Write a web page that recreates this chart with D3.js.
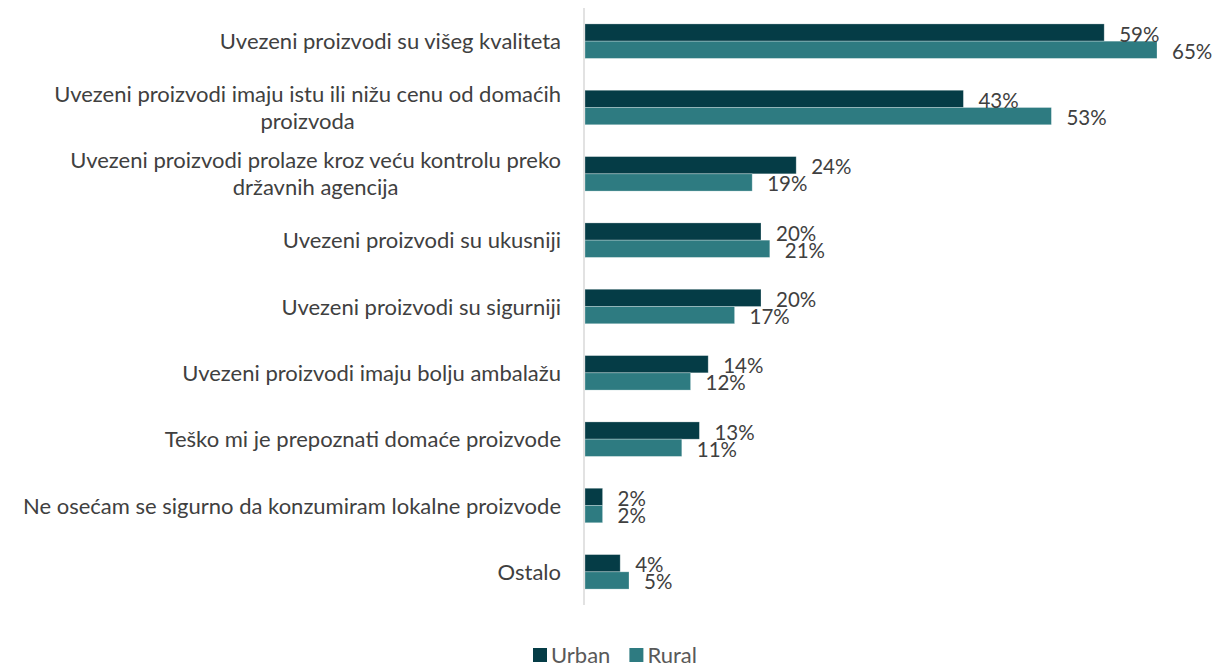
<!DOCTYPE html>
<html>
<head>
<meta charset="utf-8">
<script src="https://cdn.jsdelivr.net/npm/d3@7"></script>
<style>
  html, body { margin: 0; padding: 0; background: #fff; }
  svg { display: block; }
  text { font-family: "Lato", "Open Sans", sans-serif; }
</style>
</head>
<body>
<svg id="chart" width="1220" height="666"></svg>
<script>
// Reasons for buying imported products, by settlement type (%)
const categories = [
  ["Uvezeni proizvodi su višeg kvaliteta"],
  ["Uvezeni proizvodi imaju istu ili nižu cenu od domaćih", "proizvoda"],
  ["Uvezeni proizvodi prolaze kroz veću kontrolu preko", "državnih agencija"],
  ["Uvezeni proizvodi su ukusniji"],
  ["Uvezeni proizvodi su sigurniji"],
  ["Uvezeni proizvodi imaju bolju ambalažu"],
  ["Teško mi je prepoznati domaće proizvode"],
  ["Ne osećam se sigurno da konzumiram lokalne proizvode"],
  ["Ostalo"]
];
const urban = [59, 43, 24, 20, 20, 14, 13, 2, 4];
const rural = [65, 53, 19, 21, 17, 12, 11, 2, 5];
const seriesNames = ["Urban", "Rural"];
const seriesColors = ["#053c46", "#2e7b81"];

const svg = d3.select("#chart");
const plotLeft = 585, plotTop = 8, plotBottom = 605;

const keys = categories.map((c, i) => i);
const y = d3.scaleBand().domain(keys).range([plotTop, plotBottom]).paddingInner(0.48).paddingOuter(0.24);
const ySub = d3.scaleBand().domain([0, 1]).range([0, y.bandwidth()]);
const x = d3.scaleLinear().domain([0, 65]).range([plotLeft, 1157]);

const data = [urban, rural];

// bars
data.forEach((vals, s) => {
  svg.append("g").selectAll("rect").data(vals).join("rect")
    .attr("x", x(0))
    .attr("y", (d, i) => y(i) + ySub(s))
    .attr("width", d => x(d) - x(0))
    .attr("height", ySub.bandwidth())
    .attr("fill", seriesColors[s])
    .attr("stroke", "#ffffff")
    .attr("stroke-opacity", 0.35)
    .attr("stroke-width", 0.8);
});

// value labels
data.forEach((vals, s) => {
  svg.append("g").selectAll("text").data(vals).join("text")
    .attr("x", d => x(d) + 15)
    .attr("y", (d, i) => y(i) + ySub(s) + ySub.bandwidth() / 2 + 1)
    .attr("dominant-baseline", "central")
    .attr("font-size", 20.5)
    .attr("fill", "#404040")
    .text(d => d + "%");
});

// vertical axis line
svg.append("line")
  .attr("x1", plotLeft - 1).attr("x2", plotLeft - 1)
  .attr("y1", plotTop).attr("y2", plotBottom)
  .attr("stroke", "#d9d9d9").attr("stroke-width", 1.5);

// category labels (multi-line, block right-aligned, lines centered)
const lineH = 27;
const labelRight = 561;
const lab = svg.append("g");
categories.forEach((lines, i) => {
  const cy = y(i) + y.bandwidth() / 2 - 1;
  const t = lab.append("text")
    .attr("font-size", 22)
    .attr("fill", "#404040")
    .attr("text-anchor", "middle")
    .attr("dominant-baseline", "central");
  lines.forEach((ln, k) => {
    t.append("tspan")
      .attr("y", cy + (k - (lines.length - 1) / 2) * lineH)
      .text(ln);
  });
  let maxW = 0;
  t.selectAll("tspan").each(function () { maxW = Math.max(maxW, this.getComputedTextLength()); });
  t.selectAll("tspan").attr("x", labelRight - maxW / 2);
});

// legend
const legend = svg.append("g").attr("transform", "translate(533,654)");
let lx = 0;
seriesNames.forEach((name, s) => {
  legend.append("rect").attr("x", lx).attr("y", -6).attr("width", 14).attr("height", 14)
    .attr("fill", seriesColors[s]);
  const t = legend.append("text").attr("x", lx + 18).attr("y", 0)
    .attr("dominant-baseline", "central")
    .attr("font-size", 22).attr("fill", "#595959").text(name);
  lx += 18 + t.node().getComputedTextLength() + 19;
});
</script>
</body>
</html>
